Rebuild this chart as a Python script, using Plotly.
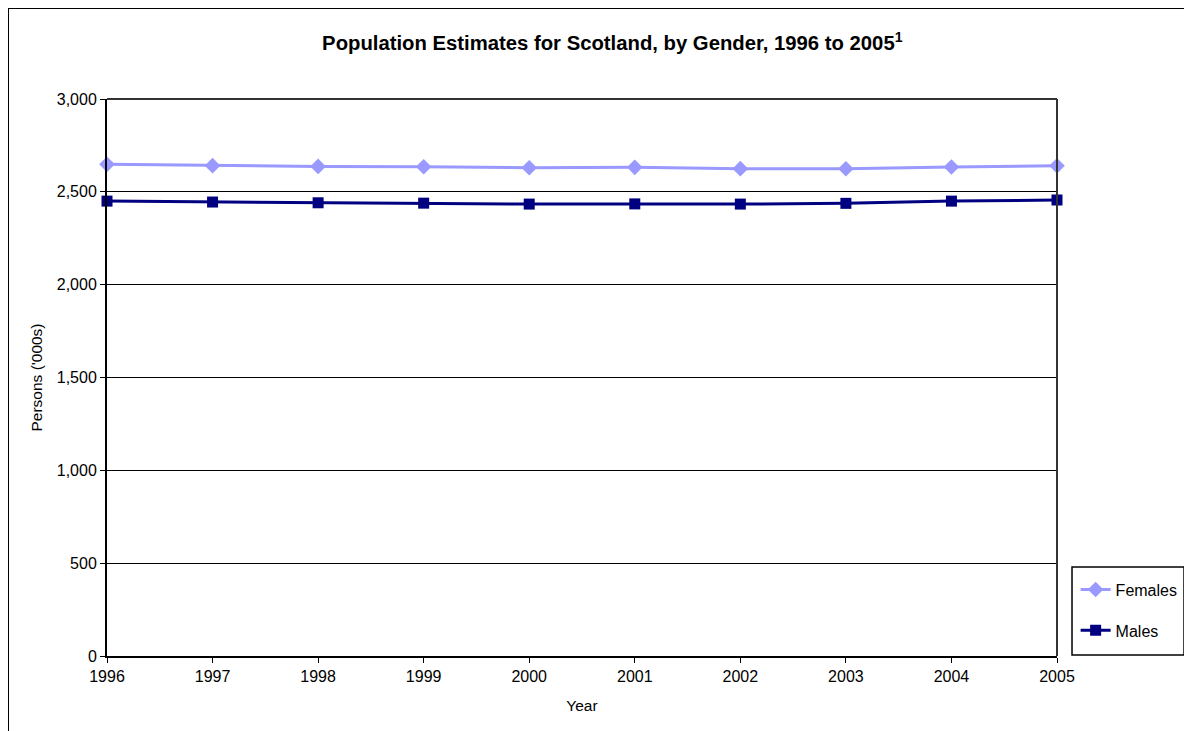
import plotly.graph_objects as go

# data (persons, thousands)
years = [1996, 1997, 1998, 1999, 2000, 2001, 2002, 2003, 2004, 2005]
females = [2648, 2641, 2637, 2635, 2630, 2632, 2625, 2624, 2634, 2640]
males = [2450, 2445, 2441, 2439, 2434, 2435, 2434, 2438, 2450, 2456]

fig = go.Figure()
fig.add_trace(go.Scatter(
    x=years, y=females, name="Females", mode="lines+markers",
    line=dict(color="#9999FF", width=3),
    marker=dict(symbol="diamond", size=12, color="#9999FF"),
    legendgroup="f", cliponaxis=False,
))
fig.add_trace(go.Scatter(
    x=years, y=males, name="Males", mode="lines+markers",
    line=dict(color="#000080", width=3),
    marker=dict(symbol="square", size=11, color="#000080"),
    legendgroup="m", cliponaxis=False,
))

# outer chart border (only left and top edges visible in the picture)
fig.add_shape(type="rect", xref="paper", yref="paper",
              x0=-0.1042, x1=1.25, y0=-0.3, y1=1.1634,
              line=dict(color="black", width=2), layer="below")

# legend box
fig.add_shape(type="rect", xref="paper", yref="paper",
              x0=1.0158, x1=1.1337, y0=0.0018, y1=0.1598,
              line=dict(color="black", width=1.5))

# page is offset 8px by the body margin, so margins are trimmed to match
fig.update_layout(
    width=1192, height=731,
    margin=dict(l=99, r=143, t=91, b=83),
    paper_bgcolor="white", plot_bgcolor="white",
    font=dict(family="Liberation Sans, Arial, sans-serif", size=16, color="black"),
    title=dict(
        text="<b>Population Estimates for Scotland, by Gender, 1996 to 2005<sup>1</sup></b>",
        xref="container", x=0.507, xanchor="center", y=0.952, yanchor="middle",
        font=dict(size=20.3),
    ),
    legend=dict(
        x=1.0196, xanchor="left", y=0.015, yanchor="bottom",
        bgcolor="rgba(0,0,0,0)", borderwidth=0,
        traceorder="grouped", tracegroupgap=17,
        font=dict(size=16),
    ),
    xaxis=dict(
        range=[1996, 2005], tickmode="array", tickvals=years,
        ticks="outside", ticklen=5, tickcolor="black",
        showgrid=False, showline=True, linecolor="black", linewidth=2,
        mirror=False, zeroline=False,
        title=dict(text="Year", standoff=16, font=dict(size=15.5)),
    ),
    yaxis=dict(
        range=[0, 3000], dtick=500, tickformat=",",
        ticks="outside", ticklen=5, tickcolor="black",
        showgrid=True, gridcolor="black", gridwidth=1,
        showline=True, linecolor="black", linewidth=2, zeroline=False,
        title=dict(text="Persons ('000s)", standoff=10, font=dict(size=15.5)),
    ),
)

# plot area frame (top and right)
fig.add_shape(type="line", xref="paper", yref="paper", x0=0, x1=1, y0=1, y1=1,
              line=dict(color="#333333", width=2))
fig.add_shape(type="line", xref="paper", yref="paper", x0=1, x1=1, y0=0, y1=1,
              line=dict(color="#333333", width=2))

fig.write_html("out.html")
